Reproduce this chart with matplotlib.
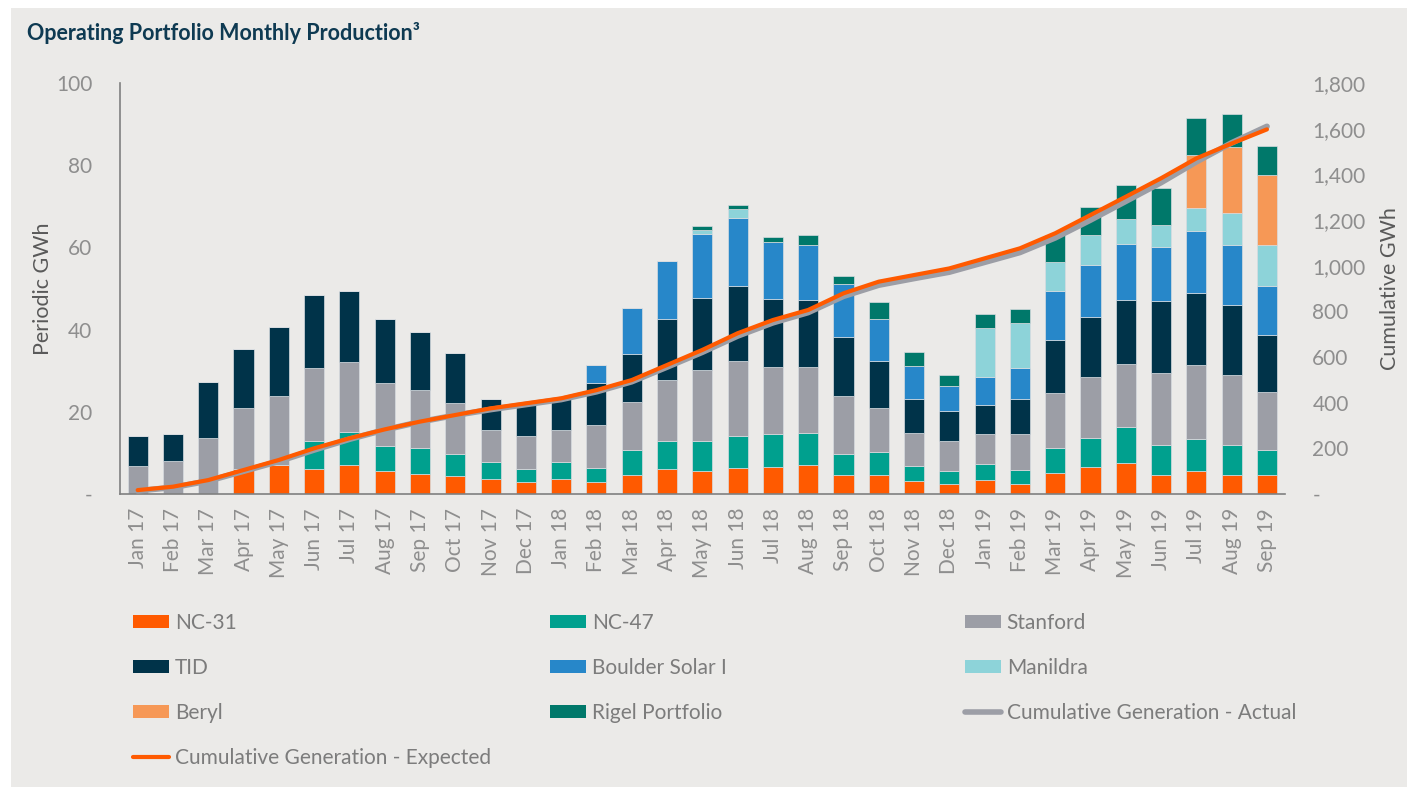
import matplotlib
matplotlib.use("Agg")
import matplotlib.pyplot as plt
import matplotlib.patches as patches
from matplotlib.lines import Line2D
from matplotlib.ticker import FuncFormatter
import numpy as np

plt.rcParams['font.family'] = ['Lato', 'DejaVu Sans']

months = ['Jan 17', 'Feb 17', 'Mar 17', 'Apr 17', 'May 17', 'Jun 17', 'Jul 17', 'Aug 17',
          'Sep 17', 'Oct 17', 'Nov 17', 'Dec 17', 'Jan 18', 'Feb 18', 'Mar 18', 'Apr 18',
          'May 18', 'Jun 18', 'Jul 18', 'Aug 18', 'Sep 18', 'Oct 18', 'Nov 18', 'Dec 18',
          'Jan 19', 'Feb 19', 'Mar 19', 'Apr 19', 'May 19', 'Jun 19', 'Jul 19', 'Aug 19', 'Sep 19']

# monthly production per asset (GWh)
nc31 = [0, 0, 0, 6.0, 7.0, 6.1, 7.1, 5.6, 4.8, 4.3, 3.6, 2.8,
        3.7, 3.0, 4.7, 6.1, 5.6, 6.3, 6.5, 7.0, 4.7, 4.6, 3.2, 2.4,
        3.3, 2.5, 5.1, 6.5, 7.6, 4.6, 5.5, 4.7, 4.6]
nc47 = [0, 0, 0, 0, 0, 6.8, 7.9, 6.0, 6.5, 5.4, 4.3, 3.4,
        4.2, 3.4, 5.9, 6.8, 7.2, 7.9, 8.0, 7.8, 5.1, 5.5, 3.7, 3.1,
        4.1, 3.4, 6.2, 7.2, 8.6, 7.4, 8.0, 7.3, 6.1]
stanford = [6.9, 8.0, 13.6, 14.9, 16.9, 17.8, 17.2, 15.5, 14.1, 12.5, 7.7, 7.8,
            7.7, 10.4, 11.9, 14.9, 17.4, 18.2, 16.5, 16.2, 14.1, 10.9, 8.0, 7.3,
            7.2, 8.8, 13.2, 14.7, 15.5, 17.4, 17.9, 17.0, 14.1]
tid = [7.1, 6.6, 13.6, 14.4, 16.7, 17.8, 17.2, 15.6, 14.0, 12.1, 7.6, 7.7,
       7.5, 10.2, 11.6, 14.7, 17.6, 18.2, 16.4, 16.1, 14.2, 11.3, 8.1, 7.3,
       7.0, 8.5, 13.0, 14.6, 15.4, 17.5, 17.6, 16.9, 13.9]
boulder = [0, 0, 0, 0, 0, 0, 0, 0, 0, 0, 0, 0,
           0, 4.3, 11.2, 14.3, 15.4, 16.6, 14.0, 13.4, 12.9, 10.3, 8.2, 6.2,
           6.8, 7.4, 11.9, 12.7, 13.7, 13.3, 15.1, 14.6, 12.0]
manildra = [0, 0, 0, 0, 0, 0, 0, 0, 0, 0, 0, 0,
            0, 0, 0, 0, 1.0, 2.1, 0, 0, 0, 0, 0, 0,
            12.0, 10.9, 7.1, 7.2, 6.2, 5.3, 5.5, 7.9, 10.0]
beryl = [0, 0, 0, 0, 0, 0, 0, 0, 0, 0, 0, 0,
         0, 0, 0, 0, 0, 0, 0, 0, 0, 0, 0, 0,
         0, 0, 0, 0, 0, 0, 12.9, 16.1, 16.9]
rigel = [0, 0, 0, 0, 0, 0, 0, 0, 0, 0, 0, 0,
         0, 0, 0, 0, 0.9, 1.1, 1.1, 2.6, 2.1, 4.2, 3.4, 2.7,
         3.5, 3.6, 6.5, 6.9, 8.2, 8.9, 8.9, 7.9, 7.0]

# cumulative generation (GWh)
cum_actual = [14, 29, 57, 100, 143, 193, 240, 281, 316, 345, 370, 392,
              414, 448, 492, 556, 621, 692, 750, 795, 866, 915, 944, 972,
              1015, 1058, 1122, 1200, 1282, 1364, 1455, 1538, 1610]
cum_expected = [17, 32, 61, 105, 149, 200, 244, 283, 317, 346, 375, 397,
                419, 455, 499, 565, 631, 704, 762, 806, 879, 930, 959, 988,
                1032, 1076, 1142, 1222, 1302, 1383, 1470, 1535, 1597]

series = [
    ('NC-31', nc31, '#FF5A00'),
    ('NC-47', nc47, '#00A08E'),
    ('Stanford', stanford, '#9C9EA6'),
    ('TID', tid, '#003349'),
    ('Boulder Solar I', boulder, '#2787C9'),
    ('Manildra', manildra, '#8DD3D9'),
    ('Beryl', beryl, '#F69856'),
    ('Rigel Portfolio', rigel, '#00786A'),
]

bg = '#EBEAE8'
tick_col = '#8E8E8E'
label_col = '#595959'

fig = plt.figure(figsize=(14.07, 7.87), dpi=100, facecolor='white')
fig.add_artist(patches.Rectangle((11 / 1407, 0), 1, 1 - 8 / 787, transform=fig.transFigure,
                                 facecolor=bg, edgecolor='none', zorder=-10))

ax = fig.add_axes([0.0853, 0.3723, 0.8277, 0.5222])
ax.set_facecolor(bg)
x = np.arange(len(months))
bottom = np.zeros(len(months))
handles = {}
for name, vals, col in series:
    vals = np.array(vals)
    ax.bar(x, vals, 0.57, bottom=bottom, color=col, edgecolor='#D8DCE0', linewidth=0.5)
    handles[name] = patches.Patch(facecolor=col, edgecolor='none')
    bottom += vals

ax.set_xlim(-0.5, 32.5)
ax.set_ylim(0, 100)
ax.set_yticks([0, 20, 40, 60, 80, 100])
ax.yaxis.set_major_formatter(FuncFormatter(lambda v, p: '-' if v == 0 else '%d' % v))
ax.set_xticks(x)
ax.set_xticklabels(months, rotation=90)
ax.tick_params(axis='both', length=0, colors=tick_col, labelsize=15)
ax.tick_params(axis='y', pad=20)
ax.tick_params(axis='x', pad=10)
for s in ['top', 'right']:
    ax.spines[s].set_visible(False)
for s in ['left', 'bottom']:
    ax.spines[s].set_color('#808080')
    ax.spines[s].set_linewidth(1.2)
ax.set_ylabel('Periodic GWh', fontsize=15.5, color=label_col, labelpad=2)

ax2 = ax.twinx()
ax2.plot(x, cum_actual, color='#9C9EA6', linewidth=4.2, solid_capstyle='round')
ax2.plot(x, cum_expected, color='#FF5A00', linewidth=3.0, solid_capstyle='round')
ax2.set_ylim(0, 1800)
ax2.set_yticks(np.arange(0, 1801, 200))
ax2.yaxis.set_major_formatter(FuncFormatter(lambda v, p: '-' if v == 0 else '{:,.0f}'.format(v)))
ax2.tick_params(axis='y', length=0, colors=tick_col, labelsize=15, pad=20)
for s in ax2.spines.values():
    s.set_visible(False)
ax2.set_ylabel('Cumulative GWh', fontsize=15.5, color=label_col, labelpad=10)

fig.text(27 / 1407, 1 - 33 / 787, 'Operating Portfolio Monthly Production\u00b3', fontsize=15.5,
         fontweight='bold', color='#0E3A52', va='center', ha='left')

handles['Cumulative Generation - Actual'] = Line2D([], [], color='#9C9EA6', linewidth=4, solid_capstyle='round')
handles['Cumulative Generation - Expected'] = Line2D([], [], color='#FF5A00', linewidth=3, solid_capstyle='round')

columns = [
    (['NC-31', 'TID', 'Beryl', 'Cumulative Generation - Expected'], 133),
    (['NC-47', 'Boulder Solar I', 'Rigel Portfolio'], 550),
    (['Stanford', 'Manildra', 'Cumulative Generation - Actual'], 965),
]
for names, xpix in columns:
    leg = fig.legend([handles[n] for n in names], names, loc='upper left',
                     bbox_to_anchor=(xpix / 1407, 1 - 613 / 787), frameon=False,
                     fontsize=15, handlelength=1.75, handleheight=0.55, handletextpad=0.25,
                     labelspacing=1.2, borderaxespad=0, borderpad=0)
    for t in leg.get_texts():
        t.set_color('#7C7C7C')

fig.savefig('out.png', dpi=100, facecolor=fig.get_facecolor())
